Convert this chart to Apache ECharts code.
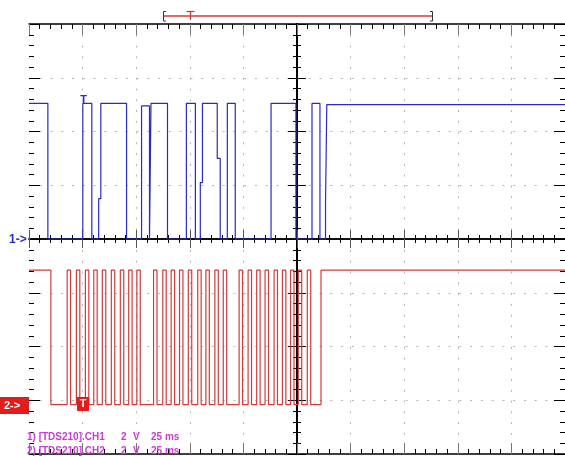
<!DOCTYPE html>
<html><head><meta charset="utf-8">
<script src="https://cdn.jsdelivr.net/npm/echarts@6/dist/echarts.min.js"></script>
<style>html,body{margin:0;padding:0;background:#fff}#c{width:565px;height:456px}</style>
</head><body><div id="c"></div>
<script>
// Time base: 25 ms/div, 10 divisions. Vertical: 2 V/div, 8 divisions.
const timeMin = 0, timeMax = 250, timePerDiv = 25;
const voltsPerDiv = 2;
// CH1 (blue): edge times (ms) and level (V) after each edge
const ch1Times = [0, 8.8, 25.1, 29.3, 32.5, 33.5, 45.5, 52.5, 56.2, 56.9, 64.6, 73.4, 77.6, 79.9, 80.9, 87.8, 89.2, 92.5, 96.2, 112.9, 124.5, 132.0, 135.7, 138.3, 138.9, 250];
const ch1Volts = [5.05, 0, 5.05, 0, 1.5, 5.05, 0, 4.95, 0, 5.05, 0, 5.05, 0, 2.1, 5.05, 3.0, 0, 5.05, 0, 5.05, 0, 5.05, 0, 1.3, 5.0, 5.0];
// CH2 (red): idle high, drop, then clock pulses, then idle high again
const ch2IdleVolts = 5.0;
const ch2StartFall = 10.2;
const ch2Rise = [17.8, 22.1, 26.3, 30.2, 34.2, 38.4, 42.6, 46.5, 50.3, 58.1, 62.4, 66.3, 70.2, 74.3, 78.7, 82.5, 86.7, 90.6, 98.0, 102.2, 106.2, 110.1, 114.3, 118.2, 122.0, 125.6, 129.8];
const ch2Fall = [19.4, 23.7, 27.9, 31.8, 35.8, 40.0, 44.2, 48.1, 51.9, 59.7, 64.0, 67.9, 71.8, 75.9, 80.3, 84.1, 88.3, 92.2, 99.6, 103.8, 107.8, 111.7, 115.9, 119.8, 123.6, 127.2, 131.4];
const ch2FinalRise = 136.2;
const ch2Offset = -1.84; // V at bottom of screen for CH2 (ground marker position)
const legendLines = ['1) [TDS210].CH1', '2) [TDS210].CH2'];
const legendVolts = '2', legendUnit = 'V', legendTime = '25 ms';

const ch1Data = ch1Times.map((t, i) => [t, ch1Volts[i]]);
const ch2Data = [[0, ch2IdleVolts], [ch2StartFall, 0]];
ch2Rise.forEach((r, i) => { ch2Data.push([r, ch2IdleVolts]); ch2Data.push([ch2Fall[i], 0]); });
ch2Data.push([ch2FinalRise, ch2IdleVolts]);
ch2Data.push([timeMax, ch2IdleVolts]);

const dotted = {show: true, showMinLine: false, showMaxLine: false, lineStyle: {color: '#b4b4b4', width: 1, type: [2, 8.76]}};
function xBorder(pos, split) {
  return {type: 'value', min: timeMin, max: timeMax, interval: timePerDiv, position: pos,
    axisLine: {show: true, onZero: false, lineStyle: {color: '#000', width: 1.5}},
    axisTick: {show: true, inside: true, length: 11, lineStyle: {color: '#777'}},
    minorTick: {show: true, splitNumber: 5, length: 5, lineStyle: {color: '#000'}},
    axisLabel: {show: false}, splitLine: split ? dotted : {show: false}, minorSplitLine: {show: false}};
}
function xCenter(inside) {
  return {type: 'value', min: timeMin, max: timeMax, interval: timePerDiv, position: 'bottom',
    axisLine: {show: true, onZero: true, onZeroAxisIndex: 0, lineStyle: {color: '#000', width: 1.5}},
    axisTick: {show: true, inside: inside, length: 9, lineStyle: {color: '#555'}},
    minorTick: {show: true, splitNumber: 5, length: 4, lineStyle: {color: '#000'}},
    axisLabel: {show: false}, splitLine: {show: false}};
}
function yEdge(pos, split) {
  return {type: 'value', min: -4 * voltsPerDiv, max: 4 * voltsPerDiv, interval: voltsPerDiv, position: pos,
    axisLine: {show: false, onZero: false},
    axisTick: {show: true, inside: true, length: 11, lineStyle: {color: '#000'}},
    minorTick: {show: true, splitNumber: 5, length: 5, lineStyle: {color: '#000'}},
    axisLabel: {show: false}, splitLine: split ? dotted : {show: false}, minorSplitLine: {show: false}};
}
function yCenter(inside) {
  return {type: 'value', min: -4 * voltsPerDiv, max: 4 * voltsPerDiv, interval: voltsPerDiv, position: 'left',
    axisLine: {show: true, onZero: true, onZeroAxisIndex: 2, lineStyle: {color: '#000', width: 2}},
    axisTick: {show: true, inside: inside, length: 9, lineStyle: {color: '#000'}},
    minorTick: {show: true, splitNumber: 5, length: 4, lineStyle: {color: '#000'}},
    axisLabel: {show: false}, splitLine: {show: false}};
}

const FONT = '"Liberation Sans", Arial, sans-serif';
const magenta = '#c83cd0';
const red = '#d03a3a';
const graphics = [
  {type: 'line', shape: {x1: 163, y1: 16, x2: 432, y2: 16}, style: {stroke: red, lineWidth: 1.3}},
  {type: 'polyline', shape: {points: [[166, 11.5], [163.5, 11.5], [163.5, 21], [166, 21]]}, style: {stroke: '#333', lineWidth: 1, fill: null}},
  {type: 'polyline', shape: {points: [[430, 11.5], [432.5, 11.5], [432.5, 21], [430, 21]]}, style: {stroke: '#333', lineWidth: 1, fill: null}},
  {type: 'line', shape: {x1: 186.5, y1: 11.5, x2: 194.5, y2: 11.5}, style: {stroke: red, lineWidth: 1.3}},
  {type: 'line', shape: {x1: 190.5, y1: 11.5, x2: 190.5, y2: 20}, style: {stroke: red, lineWidth: 1.3}},
  {type: 'text', style: {text: '1->', x: 9, y: 240, fill: '#2a2acc', font: 'bold 12px ' + FONT, verticalAlign: 'middle'}},
  {type: 'rect', shape: {x: 0, y: 397, width: 29, height: 17}, style: {fill: '#e01c1c'}},
  {type: 'text', style: {text: '2->', x: 4, y: 405.5, fill: '#fff', font: 'bold 11px ' + FONT, verticalAlign: 'middle'}},
  {type: 'rect', shape: {x: 77, y: 397, width: 12, height: 14}, style: {fill: '#e01c1c'}, z: 10},
  {type: 'text', style: {text: 'T', x: 83, y: 404, fill: '#fff', font: 'bold 11px ' + FONT, align: 'center', verticalAlign: 'middle'}, z: 11},
  {type: 'text', style: {text: 'T', x: 83.5, y: 100, fill: '#2a2acc', font: 'bold 11px ' + FONT, align: 'center', verticalAlign: 'middle'}}
];
legendLines.forEach((s, i) => {
  const y = 437 + i * 14;
  graphics.push({type: 'text', style: {text: s, x: 27, y: y, fill: magenta, font: 'bold 10px ' + FONT, verticalAlign: 'middle'}, z: 20});
  graphics.push({type: 'text', style: {text: legendVolts, x: 121, y: y, fill: magenta, font: 'bold 10px ' + FONT, verticalAlign: 'middle'}, z: 20});
  graphics.push({type: 'text', style: {text: legendUnit, x: 133, y: y, fill: magenta, font: 'bold 10px ' + FONT, verticalAlign: 'middle'}, z: 20});
  graphics.push({type: 'text', style: {text: legendTime, x: 151, y: y, fill: magenta, font: 'bold 10px ' + FONT, verticalAlign: 'middle'}, z: 20});
});

const chart = echarts.init(document.getElementById('c'), null, {renderer: 'canvas'});
chart.setOption({
  animation: false,
  backgroundColor: '#fff',
  grid: {left: 29, right: -2, top: 24, bottom: 2, containLabel: false},
  xAxis: [xBorder('bottom', true), xBorder('top', false),
    {type: 'value', min: -timeMax / 2, max: timeMax / 2, show: false},
    xCenter(true), xCenter(false)],
  yAxis: [yEdge('left', true),
    {type: 'value', min: ch2Offset, max: ch2Offset + 8 * voltsPerDiv, show: false, axisLine: {onZero: false}},
    yEdge('right', false), yCenter(true), yCenter(false)],
  series: [
    {type: 'line', name: 'CH1', data: ch1Data, xAxisIndex: 0, yAxisIndex: 0, step: 'end', showSymbol: false,
      lineStyle: {color: '#2a2ac4', width: 1.2}, z: 5},
    {type: 'line', name: 'CH2', data: ch2Data, xAxisIndex: 0, yAxisIndex: 1, step: 'end', showSymbol: false,
      lineStyle: {color: '#d03c3c', width: 1.2}, z: 5}
  ],
  graphic: graphics
});
</script></body></html>
